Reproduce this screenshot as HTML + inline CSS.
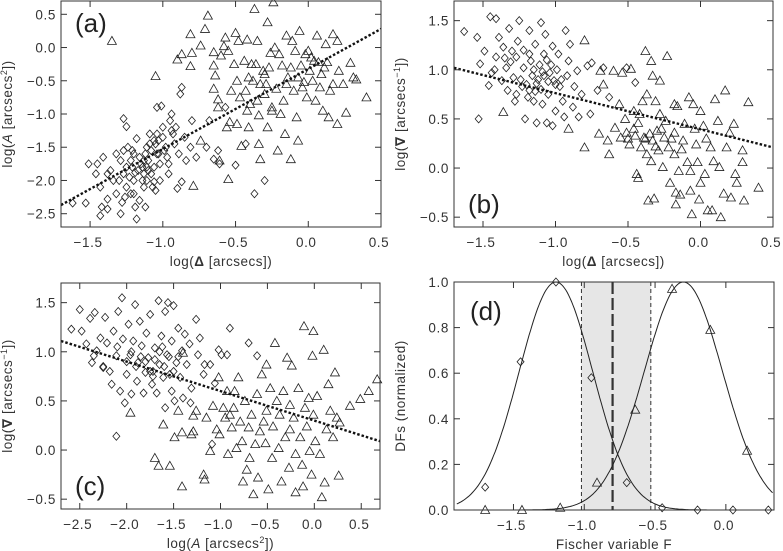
<!DOCTYPE html>
<html><head><meta charset="utf-8">
<style>
html,body{margin:0;padding:0;background:#fff;}
svg{display:block;font-family:"Liberation Sans","DejaVu Sans",sans-serif;}
.tk{font-size:13.5px;fill:#333;letter-spacing:0.6px;}
.ttl{font-size:13.5px;fill:#333;letter-spacing:0.5px;}
.pl{font-size:26px;fill:#222;}
</style></head>
<body>
<svg id="fig" width="783" height="551" viewBox="0 0 783 551" xmlns="http://www.w3.org/2000/svg"></svg>
<script>
// ---- Panel (a): log(Delta) vs log(A)
const aDiaX=[-1.62,-1.53,-1.51,-1.46,-1.45,-1.43,-1.42,-1.43,-1.41,-1.38,-1.38,-1.38,-1.34,-1.32,-1.27,-1.25,-1.29,-1.28,-1.27,-1.25,-1.24,-1.22,-1.21,-1.2,-1.2,-1.19,-1.18,-1.18,-1.16,-1.14,-1.13,-1.13,-1.12,-1.11,-1.1,-1.09,-1.08,-1.06,-1.05,-1.04,-1.04,-1.03,-1.02,-1.01,-1.0,-0.98,-0.97,-0.96,-0.95,-0.94,-0.93,-0.92,-0.9,-0.88,-0.87,-0.87,-0.85,-0.84,-0.81,-0.8,-0.77,-0.7,-0.68,-0.65,-0.62,-0.61,-0.57,-0.5,-0.43,-0.37,-0.3,-1.06,-1.13,-1.2,-1.25,-1.11,-1.06,-1.02,-1.32,
 -1.3,-1.26,-1.23,-1.21,-1.17,-1.15,-1.12,-1.1,-1.08,-1.07,-1.05,-1.03,-1.0,-0.99,-0.96,-0.94,-1.16,-1.19,-1.14,-1.09,-1.29,-1.36,-1.22,-1.04,-0.91,-0.89,-1.11,-1.27];
const aDiaY=[-2.34,-2.34,-1.75,-1.9,-1.75,-2.1,-2.4,-2.53,-1.65,-1.9,-2.28,-2.43,-2.0,-2.2,-1.07,-1.19,-2.5,-2.33,-1.9,-2.1,-1.5,-1.7,-1.8,-2.0,-2.2,-2.4,-2.58,-1.37,-1.65,-1.8,-1.9,-2.1,-2.4,-1.5,-1.7,-1.3,-1.9,-2.02,-2.15,-0.9,-1.6,-1.4,-1.75,-0.88,-1.2,-1.5,-1.65,-1.9,-1.1,-1.0,-1.3,-1.45,-2.12,-0.7,-2.02,-0.6,-1.35,-1.7,-1.5,-1.1,-1.65,-1.5,-1.1,-1.68,-1.55,-1.75,-0.9,-1.77,-1.45,-2.2,-2.0,-1.4,-1.7,-1.6,-1.8,-1.8,-1.8,-2.0,-1.6,
 -2.0,-2.25,-1.95,-1.55,-1.85,-1.75,-1.6,-1.85,-1.55,-2.1,-1.45,-1.6,-1.35,-1.55,-1.75,-1.25,-2.3,-1.88,-2.0,-1.45,-1.7,-1.85,-2.2,-1.3,-1.2,-1.6,-2.0,-1.55];
const aTriX=[-1.35,-1.05,-0.9,-0.87,-0.81,-0.8,-0.81,-0.79,-0.74,-0.74,-0.71,-0.69,-0.65,-0.65,-0.64,-0.65,-0.62,-0.6,-0.58,-0.62,-0.61,-0.57,-0.55,-0.51,-0.5,-0.49,-0.48,-0.47,-0.44,-0.43,-0.42,-0.41,-0.42,-0.41,-0.46,-0.39,-0.38,-0.37,-0.35,-0.35,-0.34,-0.34,-0.33,-0.31,-0.3,-0.29,-0.28,-0.28,-0.26,-0.25,-0.24,-0.23,-0.22,-0.21,-0.18,-0.17,-0.16,-0.15,-0.14,-0.12,-0.11,-0.1,-0.09,-0.08,-0.06,-0.07,-0.05,-0.03,-0.02,-0.01,0.01,0.03,0.05,0.06,0.07,0.09,0.1,0.12,0.13,0.15,0.17,0.17,0.2,0.21,0.2,0.26,0.29,0.31,0.33,0.4,0.14,-0.56,-0.54,-0.49,-0.55,-0.53,
 -0.3,-0.27,-0.2,-0.12,-0.04,0.02,0.08,-0.33,-0.25,-0.15,0.0,0.11,-0.4,-0.36,-0.19,-0.07,0.04,0.24];
const aTriY=[0.1,-0.43,-0.18,-0.1,0.2,-0.08,-0.28,-2.08,-1.4,0.03,0.28,0.48,-0.07,-0.27,-0.42,-0.62,-0.78,-0.12,0.02,-0.9,-1.7,0.15,-0.05,-0.25,0.22,-0.5,0.1,-0.75,-0.2,-0.65,0.12,-0.45,-0.95,-1.2,-1.48,-0.25,-0.5,0.58,0.1,-0.8,-1.02,-1.45,-1.68,-0.35,-0.7,-0.55,-1.2,0.38,-0.08,-0.95,0.68,0.0,-0.62,-1.55,-0.27,-0.8,-1.3,0.18,-0.45,-1.68,0.1,-0.65,-0.05,-1.05,0.25,-1.4,-0.27,-0.52,-0.1,-0.75,-0.35,-0.5,-0.8,0.18,-0.22,-0.4,-0.95,0.05,-0.22,-0.65,0.2,-0.55,0.1,-0.35,-1.15,-0.98,-0.23,-0.45,-0.48,-0.75,-1.05,-1.2,-1.12,-1.15,-1.98,-0.65,
 -0.4,-0.3,-0.1,-0.3,-0.6,-0.15,-0.6,-0.55,-0.9,-0.55,-0.05,-0.3,-0.85,-0.25,-1.0,-0.45,-0.2,-0.55];
const aFitX=[-1.7,0.5]; const aFitY=[-2.37,0.28];

// ---- Panel (b): log(Delta) vs log(nabla)
const bDiaX=[-1.63,-1.54,-1.52,-1.49,-1.46,-1.45,-1.44,-1.41,-1.41,-1.39,-1.37,-1.36,-1.34,-1.33,-1.32,-1.3,-1.29,-1.28,-1.27,-1.26,-1.25,-1.23,-1.22,-1.21,-1.18,-1.18,-1.17,-1.16,-1.15,-1.14,-1.13,-1.11,-1.1,-1.09,-1.08,-1.08,-1.07,-1.06,-1.05,-1.03,-1.02,-1.01,-1.0,-0.99,-0.98,-0.97,-0.95,-0.94,-0.93,-0.92,-0.91,-0.9,-0.88,-0.87,-0.85,-0.84,-0.82,-0.78,-0.76,-0.75,-0.71,-0.67,-0.63,-0.45,-0.51,-1.02,-1.13,-1.53,-1.18,
 -1.24,-1.2,-1.15,-1.12,-1.1,-1.06,-1.04,-1.0,-1.31,-1.27,-1.19,-1.09,-1.05,-0.96,-1.35,-1.42,-1.14,-1.22];
const bDiaY=[1.39,1.33,1.06,1.19,0.84,1.54,0.97,1.52,1.13,1.33,0.89,1.23,1.02,0.79,1.42,1.19,0.92,0.68,1.13,1.29,1.5,0.83,1.02,0.5,1.4,0.79,1.09,0.94,0.68,1.26,0.86,1.05,1.48,0.65,1.16,0.94,1.36,0.46,0.75,1.05,1.24,0.89,0.58,1.0,1.16,0.83,0.68,0.52,1.4,0.94,1.09,1.26,0.62,0.83,0.99,0.52,0.75,1.04,0.55,1.07,0.79,1.02,0.72,0.87,1.02,0.43,0.46,0.5,1.16,
 0.9,0.85,1.0,0.9,0.8,1.1,0.97,0.85,1.08,0.75,0.72,0.98,0.88,0.9,1.12,1.0,0.78,1.2];
const bTriX=[-1.36,-0.91,-0.8,-0.8,-0.69,-0.67,-0.7,-0.64,-0.63,-0.6,-0.59,-0.56,-0.55,-0.54,-0.52,-0.51,-0.48,-0.49,-0.46,-0.45,-0.44,-0.43,-0.43,-0.41,-0.4,-0.39,-0.38,-0.37,-0.37,-0.36,-0.34,-0.34,-0.33,-0.33,-0.32,-0.31,-0.3,-0.29,-0.28,-0.28,-0.26,-0.25,-0.24,-0.23,-0.22,-0.21,-0.18,-0.18,-0.17,-0.17,-0.16,-0.15,-0.14,-0.13,-0.11,-0.09,-0.08,-0.07,-0.07,-0.06,-0.05,-0.03,-0.02,-0.01,0.0,0.0,0.02,0.03,0.05,0.07,0.08,0.09,0.1,0.12,0.13,0.14,0.16,0.17,0.18,0.2,0.21,0.23,0.24,0.25,0.29,0.3,0.29,0.33,0.4,-0.18,-0.38,
 -0.5,-0.46,-0.42,-0.35,-0.31,-0.27,-0.2,-0.12,-0.04,0.04];
const bTriY=[0.57,0.4,1.3,0.21,0.99,0.85,0.35,0.28,0.14,0.99,0.41,0.65,0.31,0.97,0.5,0.36,1.01,0.24,0.58,0.33,-0.06,-0.1,0.46,0.21,0.68,0.31,1.19,0.75,0.14,-0.33,1.09,0.07,0.94,0.28,-0.31,0.68,0.38,0.18,0.89,0.55,0.01,0.31,0.48,1.14,0.21,-0.15,0.36,0.14,-0.25,-0.37,0.63,-0.03,-0.27,0.19,0.45,0.06,0.72,-0.03,-0.23,-0.47,0.65,0.24,0.06,-0.32,0.58,-0.15,0.43,-0.06,-0.43,0.21,-0.43,0.07,0.7,0.48,0.01,-0.5,-0.26,0.79,0.21,0.36,-0.3,0.45,-0.06,-0.15,0.06,-0.33,0.18,0.67,-0.2,0.65,0.3,
 0.3,0.4,0.55,0.35,0.22,0.4,0.3,0.28,0.4,0.3];
const bFitX=[-1.7,0.5]; const bFitY=[1.02,0.21];

// ---- Panel (c): log(A) vs log(nabla)
const cDiaX=[-2.59,-2.5,-2.48,-2.43,-2.39,-2.37,-2.34,-2.32,-2.28,-2.25,-2.23,-2.21,-2.18,-2.16,-2.14,-2.11,-2.09,-2.07,-2.05,-2.04,-2.02,-2.0,-1.98,-1.96,-1.95,-1.93,-1.91,-1.89,-1.88,-1.86,-1.84,-1.82,-1.8,-1.79,-1.77,-1.75,-1.73,-1.72,-1.7,-1.68,-1.66,-1.65,-1.63,-1.61,-1.59,-1.57,-1.56,-1.54,-1.52,-1.5,-1.49,-1.47,-1.45,-1.43,-1.41,-1.4,-1.38,-1.36,-1.33,-1.31,-1.26,-1.24,-1.22,-1.18,-1.17,-1.11,-1.09,-1.06,-1.02,-0.99,-0.93,-0.9,-0.61,-0.7,-1.32,-1.59,-2.11,-2.25,-2.35,
 -1.9,-1.85,-1.8,-1.75,-1.7,-1.65,-1.6,-1.55,-1.5,-1.45,-2.0,-2.1,-1.95,-1.72,-1.62,-1.52];
const cDiaY=[1.23,1.43,1.21,1.08,1.34,0.89,1.4,1.01,1.14,0.85,1.35,1.09,0.8,0.67,1.21,0.96,1.41,0.6,1.55,1.13,0.48,0.77,1.28,0.97,0.57,1.11,1.48,0.7,0.89,1.31,1.06,0.58,0.79,1.19,0.94,1.38,0.67,0.8,1.04,0.58,1.52,0.87,1.16,0.74,1.41,0.97,1.5,0.77,1.11,1.47,0.5,0.89,1.24,0.74,1.01,0.53,1.18,0.87,1.08,0.63,1.33,0.97,1.14,0.77,0.87,0.87,0.06,0.68,1.02,0.97,0.97,1.24,0.96,1.09,0.48,0.43,0.14,0.84,0.96,
 0.85,0.95,0.9,0.8,0.92,1.0,0.85,0.95,0.8,0.95,0.9,1.05,1.0,0.75,1.05,0.6];
const cTriX=[-1.96,-1.7,-1.66,-1.61,-1.54,-1.49,-1.45,-1.41,-1.41,-1.4,-1.31,-1.29,-1.26,-1.18,-1.17,-1.15,-1.11,-1.08,-1.04,-1.02,-1.01,-0.97,-0.95,-0.93,-0.92,-0.9,-0.88,-0.86,-0.85,-0.83,-0.81,-0.79,-0.77,-0.76,-0.74,-0.72,-0.7,-0.69,-0.67,-0.65,-0.63,-0.61,-0.6,-0.58,-0.56,-0.54,-0.52,-0.51,-0.51,-0.49,-0.47,-0.45,-0.44,-0.42,-0.4,-0.38,-0.37,-0.35,-0.33,-0.31,-0.29,-0.27,-0.26,-0.26,-0.24,-0.22,-0.2,-0.2,-0.17,-0.15,-0.13,-0.12,-0.11,-0.1,-0.08,-0.06,-0.05,-0.03,-0.02,-0.01,0.01,0.03,0.06,0.08,0.1,0.11,0.13,0.15,0.17,0.2,0.22,0.24,0.26,0.27,0.38,0.49,0.58,0.67,-0.01,-1.29];
const cTriY=[0.38,-0.08,-0.16,0.26,-0.16,0.13,0.4,-0.37,0.18,0.99,0.16,0.35,0.4,-0.25,-0.3,0.33,-0.01,0.45,0.21,0.74,0.16,0.43,0.33,0.6,-0.04,0.36,0.23,0.43,0.6,0.02,0.74,0.29,0.09,-0.32,0.5,-0.2,0.23,-0.08,0.36,-0.45,0.06,0.57,-0.28,0.19,0.77,0.29,0.07,0.4,0.87,-0.4,0.63,-0.08,0.24,1.09,0.5,0.02,0.36,-0.32,0.6,0.13,0.94,-0.18,0.46,0.21,0.86,0.33,-0.04,-0.43,0.63,0.13,-0.15,-0.37,1.26,0.43,0.24,0.53,-0.01,-0.25,0.96,0.36,0.09,0.55,-0.04,-0.48,1.02,-0.33,0.21,0.67,0.4,0.13,0.79,0.33,-0.26,0.28,0.45,0.52,0.6,0.72,1.21,0.19];
const cFitX=[-2.7,0.7]; const cFitY=[1.11,0.09];

// ---- Panel (d): distributions of Fischer variable
const dDiaX=[-1.7,-1.45,-1.2,-0.95,-0.7,-0.45,-0.2,0.05,0.3];
const dDiaY=[0.10,0.65,1.0,0.58,0.12,0.01,0,0,0];
const dTriX=[-1.7,-1.44,-1.17,-0.91,-0.64,-0.38,-0.11,0.15];
const dTriY=[0,0,0.01,0.12,0.44,0.97,0.79,0.26];
const dGauss=[{mu:-1.2,sig:0.26},{mu:-0.3,sig:0.277}];
const dBand=[-1.02,-0.53]; const dMid=[-0.8];

const NS="http://www.w3.org/2000/svg";
const svg=document.getElementById('fig');
function mk(tag,attrs,parent){const e=document.createElementNS(NS,tag);for(const k in attrs)e.setAttribute(k,attrs[k]);(parent||svg).appendChild(e);return e;}
function lin(d0,d1,p0,p1){return v=>p0+(v-d0)*(p1-p0)/(d1-d0);}

function panel(o){
  const g=mk('g',{});
  
  
  const sx=lin(o.xr[0],o.xr[1],o.L,o.R), sy=lin(o.yr[0],o.yr[1],o.B,o.T);
  if(o.before)o.before(g,sx,sy);
  const marks=mk('g',{},g);
  
  
  (o.dia||[]).forEach(s=>{for(let i=0;i<s.x.length;i++){const x=sx(s.x[i]),y=sy(s.y[i]);
    const p=mk('path',{d:`M${x} ${y-4}L${x+3.5} ${y}L${x} ${y+4}L${x-3.5} ${y}Z`,fill:'none',stroke:'#222','stroke-width':0.8},marks);
    
    }});
  (o.tri||[]).forEach(s=>{for(let i=0;i<s.x.length;i++){const x=sx(s.x[i]),y=sy(s.y[i]);
    const p=mk('path',{d:`M${x} ${y-4.5}L${x+4.5} ${y+3.5}L${x-4.5} ${y+3.5}Z`,fill:'none',stroke:'#222','stroke-width':0.8},marks);
    
    }});
  if(o.fit){const l=mk('line',{x1:sx(o.fit[0][0]),y1:sy(o.fit[1][0]),x2:sx(o.fit[0][1]),y2:sy(o.fit[1][1]),stroke:'#111','stroke-width':2.4,'stroke-dasharray':'2.5,2'},g);
    
    }
  if(o.after)o.after(g,sx,sy);
  const f=mk('rect',{x:o.L,y:o.T,width:o.R-o.L,height:o.B-o.T,fill:'none',stroke:'#333','stroke-width':1},g);
  
  
  o.xt.forEach(v=>{const x=sx(v);
    mk('line',{x1:x,y1:o.B,x2:x,y2:o.B-6,stroke:'#333'},g);mk('line',{x1:x,y1:o.T,x2:x,y2:o.T+6,stroke:'#333'},g);
    const t=mk('text',{x:x-2,y:o.B+20,'text-anchor':'middle',class:'tk'},g);t.textContent=(v<0?'\u2212':'')+Math.abs(v).toFixed(1);
    
    });
  o.yt.forEach(v=>{const y=sy(v);
    mk('line',{x1:o.L,y1:y,x2:o.L+6,y2:y,stroke:'#333'},g);mk('line',{x1:o.R,y1:y,x2:o.R-6,y2:y,stroke:'#333'},g);
    const t=mk('text',{x:o.L-5,y:y+5,'text-anchor':'end',class:'tk'},g);t.textContent=(v<0?'\u2212':'')+Math.abs(v).toFixed(1);
    
    });
  const xt=mk('text',{x:(o.L+o.R)/2,y:o.B+39,'text-anchor':'middle',class:'ttl'},g);xt.innerHTML=o.xl;
  
  
  const yx=o.L-49,yc=(o.T+o.B)/2;
  const yt=mk('text',{x:yx,y:yc,'text-anchor':'middle',class:'ttl',transform:`rotate(-90 ${yx} ${yc})`},g);yt.innerHTML=o.yl;
  
  
  const pl=mk('text',{x:o.lab[0],y:o.lab[1],class:'pl'},g);pl.textContent=o.labT;
  
  
}
const XD='log(<tspan font-weight="bold">\u0394</tspan> [arcsecs])';
const YN='log(<tspan font-weight="bold">\u2207</tspan> [arcsecs<tspan dy="-5" font-size="9">\u22121</tspan><tspan dy="5">])</tspan>';
const AA='log(<tspan font-style="italic">A</tspan> [arcsecs<tspan dy="-5" font-size="9">2</tspan><tspan dy="5">])</tspan>';
panel({name:'panel-a',L:61,R:381,T:1,B:227,xr:[-1.7,0.5],yr:[-2.7,0.7],xt:[-1.5,-1,-0.5,0,0.5],yt:[-2.5,-2,-1.5,-1,-0.5,0,0.5],
  dia:[{x:aDiaX,y:aDiaY}],tri:[{x:aTriX,y:aTriY}],fit:[aFitX,aFitY],xl:XD,yl:AA,lab:[75,32],labT:'(a)'});
panel({name:'panel-b',L:454,R:773,T:1,B:227,xr:[-1.7,0.5],yr:[-0.6,1.7],xt:[-1.5,-1,-0.5,0,0.5],yt:[-0.5,0,0.5,1,1.5],
  dia:[{x:bDiaX,y:bDiaY}],tri:[{x:bTriX,y:bTriY}],fit:[bFitX,bFitY],xl:XD,yl:YN,lab:[468,213],labT:'(b)'});
panel({name:'panel-c',L:61,R:380,T:283,B:509,xr:[-2.7,0.7],yr:[-0.6,1.7],xt:[-2.5,-2,-1.5,-1,-0.5,0,0.5],yt:[-0.5,0,0.5,1,1.5],
  dia:[{x:cDiaX,y:cDiaY}],tri:[{x:cTriX,y:cTriY}],fit:[cFitX,cFitY],xl:AA,yl:YN,lab:[75,495],labT:'(c)'});
panel({name:'panel-d',L:454,R:774,T:282,B:510,xr:[-1.92,0.34],yr:[0,1.0],xt:[-1.5,-1,-0.5,0],yt:[0,0.2,0.4,0.6,0.8,1.0],
  dia:[{x:dDiaX,y:dDiaY}],tri:[{x:dTriX,y:dTriY}],xl:'Fischer variable F',yl:'DFs (normalized)',lab:[470,320],labT:'(d)',
  before:(g,sx,sy)=>{
    const b=mk('rect',{x:sx(dBand[0]),y:282,width:sx(dBand[1])-sx(dBand[0]),height:228,fill:'#e6e6e6'},g);
    
    
    dBand.forEach(v=>{const l=mk('line',{x1:sx(v),y1:282,x2:sx(v),y2:510,stroke:'#333','stroke-dasharray':'4,3'},g);
      
      });
    const m=mk('line',{x1:sx(dMid[0]),y1:282,x2:sx(dMid[0]),y2:510,stroke:'#333','stroke-width':2.2,'stroke-dasharray':'12,4'},g);
    
    
    dGauss.forEach(p=>{let d='';for(let v=-1.9;v<=0.34;v+=0.01){const y=Math.exp(-(v-p.mu)*(v-p.mu)/(2*p.sig*p.sig));d+=(d?'L':'M')+sx(v).toFixed(1)+' '+sy(y).toFixed(1);}
      const c=mk('path',{d:d,fill:'none',stroke:'#222','stroke-width':1},g);
      
      });
  }});
</script>
</body></html>
